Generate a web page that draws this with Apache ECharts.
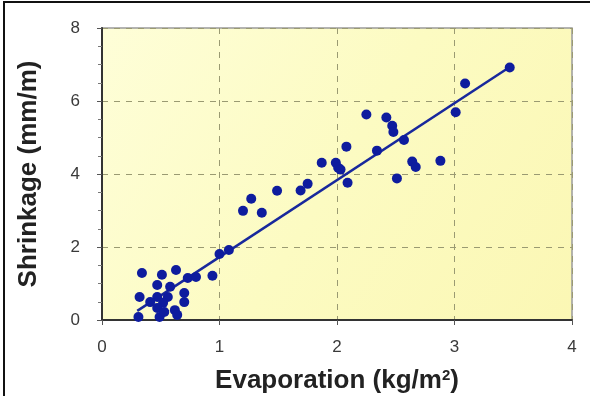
<!DOCTYPE html>
<html>
<head>
<meta charset="utf-8">
<script src="https://cdn.jsdelivr.net/npm/echarts@6/dist/echarts.min.js"></script>
<style>
html,body{margin:0;padding:0;background:#fff;}
#frame{position:absolute;left:3px;top:1px;width:600px;height:410px;border:2px solid #111;box-sizing:border-box;}
#chart{position:absolute;left:0;top:0;width:590px;height:396px;}
</style>
</head>
<body>
<div id="frame"></div>
<div id="chart"></div>
<script>
const evaporation = [
  3.47, 3.09, 3.01, 2.88, 2.42, 2.47, 2.48, 2.57, 2.64, 2.67, 2.51, 2.25, 2.08, 2.34,
  1.87, 1.99, 2.01, 2.03, 2.09, 1.75, 1.69, 1.20, 1.27, 1.36, 1.49, 1.00, 1.08, 0.94,
  0.34, 0.51, 0.63, 0.73, 0.47, 0.58, 0.32, 0.47, 0.56, 0.70, 0.70, 0.41, 0.52, 0.47,
  0.62, 0.31, 0.49, 0.64, 0.53, 0.80
];
const shrinkage = [
  6.92, 6.48, 5.69, 4.36, 5.55, 5.32, 5.15, 4.93, 4.34, 4.19, 3.88, 5.63, 4.75, 4.64,
  4.31, 4.31, 4.17, 4.12, 3.76, 3.73, 3.55, 2.99, 3.32, 2.94, 3.54, 1.81, 1.92, 1.21,
  1.29, 1.24, 1.37, 1.15, 0.96, 0.91, 0.63, 0.63, 0.63, 0.74, 0.49, 0.49, 0.47, 0.33,
  0.27, 0.08, 0.08, 0.14, 0.22, 1.18
];
const trendX = [0.30, 3.48];
const trendY = [0.25, 6.95];
const xTicks = [0, 1, 2, 3, 4];
const yTicks = [0, 2, 4, 6, 8];

const points = evaporation.map((x, i) => [x, shrinkage[i]]);
const trend = trendX.map((x, i) => [x, trendY[i]]);

const chart = echarts.init(document.getElementById('chart'), null, {renderer: 'canvas'});
chart.setOption({
  animation: false,
  backgroundColor: 'transparent',
  grid: {
    left: 102, right: 18, top: 28, bottom: 76,
    containLabel: false,
    outerBoundsMode: 'none',
    show: true,
    borderColor: '#9a9a9a', borderWidth: 1.5,
    backgroundColor: new echarts.graphic.LinearGradient(0, 0, 1, 1, [
      {offset: 0, color: '#fefed8'},
      {offset: 0.5, color: '#fcfbc2'},
      {offset: 1, color: '#fbf7b4'}
    ])
  },
  xAxis: {
    type: 'value', min: xTicks[0], max: xTicks[xTicks.length - 1], interval: 1,
    axisLine: {show: true, lineStyle: {color: '#333', width: 2}},
    axisTick: {show: true, length: 5, lineStyle: {color: '#555'}},
    axisLabel: {color: '#3a3a3a', fontSize: 17, fontFamily: 'Liberation Sans', margin: 19},
    splitLine: {show: true, lineStyle: {color: '#9a9a72', type: [6, 6], width: 1}},
    name: 'Evaporation (kg/m{sup|2})',
    nameLocation: 'middle', nameGap: 48,
    nameTextStyle: {
      color: '#222', fontSize: 26, fontWeight: 'bold', fontFamily: 'Liberation Sans',
      rich: {sup: {fontSize: 15, fontWeight: 'bold', color: '#222', verticalAlign: 'top', padding: [0, 0, 11, 0]}}
    }
  },
  yAxis: {
    type: 'value', min: yTicks[0], max: yTicks[yTicks.length - 1], interval: 2,
    axisLine: {show: true, lineStyle: {color: '#333', width: 2}},
    axisTick: {show: true, length: 5, lineStyle: {color: '#555'}},
    minorTick: {show: true, splitNumber: 4, length: 4, lineStyle: {color: '#777'}},
    axisLabel: {color: '#3a3a3a', fontSize: 17, fontFamily: 'Liberation Sans', margin: 22},
    splitLine: {show: true, lineStyle: {color: '#9a9a72', type: [6, 6], width: 1}},
    name: 'Shrinkage (mm/m)',
    nameLocation: 'middle', nameGap: 60,
    nameTextStyle: {color: '#222', fontSize: 26, fontWeight: 'bold', fontFamily: 'Liberation Sans'}
  },
  series: [
    {
      type: 'line', data: trend, symbol: 'none', z: 2,
      lineStyle: {color: '#18289c', width: 2.5}
    },
    {
      type: 'scatter', data: points, symbol: 'circle', symbolSize: 10, z: 3,
      itemStyle: {color: '#0e1c9e', opacity: 1}
    }
  ]
});
</script>
</body>
</html>
